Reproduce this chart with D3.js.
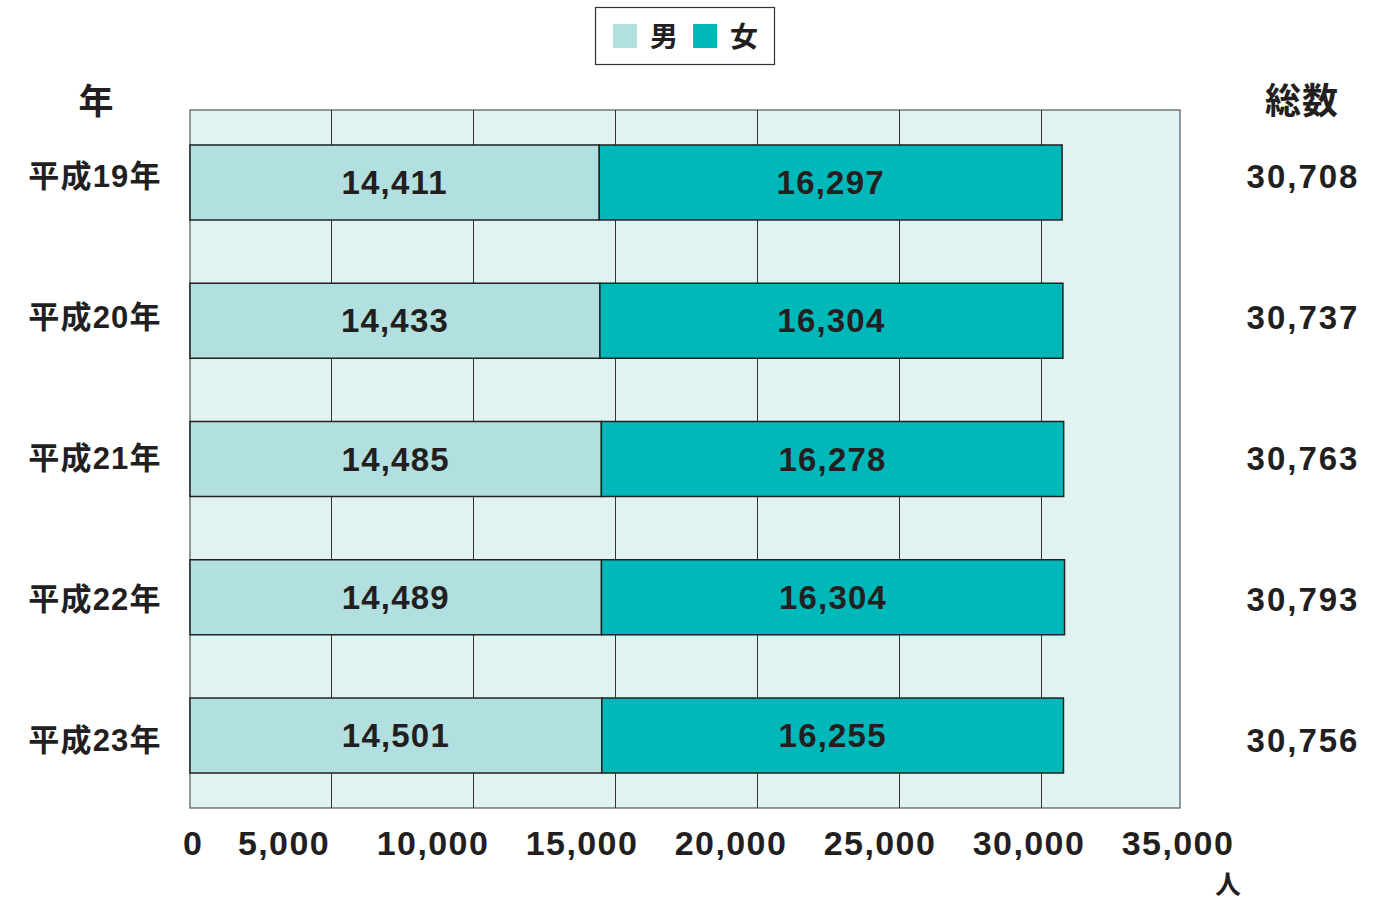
<!DOCTYPE html>
<html><head><meta charset="utf-8">
<script src="https://cdn.jsdelivr.net/npm/d3@7"></script>
<style>
html,body{margin:0;padding:0;background:#fff;}
svg{display:block;}
text{font-family:"Liberation Sans","Noto Sans CJK JP",sans-serif;font-weight:bold;fill:#231f20;}
</style></head>
<body>
<script>
const years = ["平成19年","平成20年","平成21年","平成22年","平成23年"];
const male = [14411,14433,14485,14489,14501];
const female = [16297,16304,16278,16304,16255];
const totals = [30708,30737,30763,30793,30756];
const ticks = [0,5000,10000,15000,20000,25000,30000,35000];
const seriesNames = ["男","女"];
const colors = ["#b2dfdf","#00b8ba"];

const W=1392,H=901;
const svg=d3.select("body").append("svg").attr("width",W).attr("height",H);

const plot={left:190,right:1180,top:110,bottom:808};
const x=d3.scaleLinear().domain([0,35000]).range([190,1184]);
const y=d3.scaleBand().domain(years).range([plot.top,plot.bottom]).paddingInner(0.4575).paddingOuter(0.253);
const yLab=d3.scalePoint().domain(years).range([176,740]);
const tickLab=d3.scaleLinear().domain([5000,35000]).range([284,1178]);
const fmt=d3.format(",");

// plot background
svg.append("rect").attr("x",plot.left).attr("y",plot.top)
  .attr("width",plot.right-plot.left).attr("height",plot.bottom-plot.top)
  .attr("fill","#e1f2f2").attr("stroke","#555").attr("stroke-width",1.2);

// gridlines
svg.append("g").selectAll("line").data(ticks.filter(t=>t>0&&t<35000)).join("line")
  .attr("x1",d=>Math.round(x(d))-0.5).attr("x2",d=>Math.round(x(d))-0.5)
  .attr("y1",plot.top).attr("y2",plot.bottom)
  .attr("stroke","#333").attr("stroke-width",1);

// bars
const rows=years.map((yr,i)=>({yr,m:male[i],f:female[i],t:totals[i]}));
const g=svg.append("g");
g.selectAll("rect.m").data(rows).join("rect").attr("class","m")
  .attr("x",x(0)).attr("y",d=>y(d.yr)).attr("width",d=>x(d.m)-x(0)).attr("height",y.bandwidth())
  .attr("fill",colors[0]).attr("stroke","#222").attr("stroke-width",1.5);
g.selectAll("rect.f").data(rows).join("rect").attr("class","f")
  .attr("x",d=>x(d.m)).attr("y",d=>y(d.yr)).attr("width",d=>x(d.m+d.f)-x(d.m)).attr("height",y.bandwidth())
  .attr("fill",colors[1]).attr("stroke","#222").attr("stroke-width",1.5);

// bar labels
g.selectAll("text.ml").data(rows).join("text").attr("class","ml")
  .attr("x",d=>(x(0)+x(d.m))/2).attr("y",d=>y(d.yr)+y.bandwidth()/2)
  .attr("text-anchor","middle").attr("dominant-baseline","central")
  .style("font-size","33px").style("letter-spacing","1.2px").text(d=>fmt(d.m));
g.selectAll("text.fl").data(rows).join("text").attr("class","fl")
  .attr("x",d=>(x(d.m)+x(d.m+d.f))/2).attr("y",d=>y(d.yr)+y.bandwidth()/2)
  .attr("text-anchor","middle").attr("dominant-baseline","central")
  .style("font-size","33px").style("letter-spacing","1.2px").text(d=>fmt(d.f));

// row labels
svg.append("g").selectAll("text").data(rows).join("text")
  .attr("x",95).attr("y",d=>yLab(d.yr)).attr("text-anchor","middle").attr("dominant-baseline","central")
  .style("font-size","31px").style("letter-spacing","1.2px").text(d=>d.yr);
// totals
svg.append("g").selectAll("text").data(rows).join("text")
  .attr("x",1303).attr("y",d=>yLab(d.yr)).attr("text-anchor","middle").attr("dominant-baseline","central")
  .style("font-size","33px").style("letter-spacing","2px").text(d=>fmt(d.t));

// headers
svg.append("text").attr("x",96).attr("y",101).attr("text-anchor","middle").attr("dominant-baseline","central")
  .style("font-size","35px").text("年");
svg.append("text").attr("x",1302).attr("y",101).attr("text-anchor","middle").attr("dominant-baseline","central")
  .style("font-size","36px").style("letter-spacing","1px").text("総数");

// x tick labels
svg.append("g").selectAll("text").data(ticks).join("text")
  .attr("x",d=>d===0?183:tickLab(d)).attr("y",843)
  .attr("text-anchor",d=>d===0?"start":"middle").attr("dominant-baseline","central")
  .style("font-size","34px").style("letter-spacing","1.4px").text(d=>fmt(d));
svg.append("text").attr("x",1228).attr("y",885).attr("text-anchor","middle").attr("dominant-baseline","central")
  .style("font-size","26px").text("人");

// legend
const lg=svg.append("g");
lg.append("rect").attr("x",595.5).attr("y",7.5).attr("width",179).attr("height",57)
  .attr("fill","#fff").attr("stroke","#333").attr("stroke-width",1.2);
const legX=[613,693];
seriesNames.forEach((n,i)=>{
  lg.append("rect").attr("x",legX[i]).attr("y",24).attr("width",24).attr("height",24).attr("fill",colors[i]);
  lg.append("text").attr("x",legX[i]+37).attr("y",37).attr("dominant-baseline","central")
    .style("font-size","28px").text(n);
});
</script>
</body></html>
